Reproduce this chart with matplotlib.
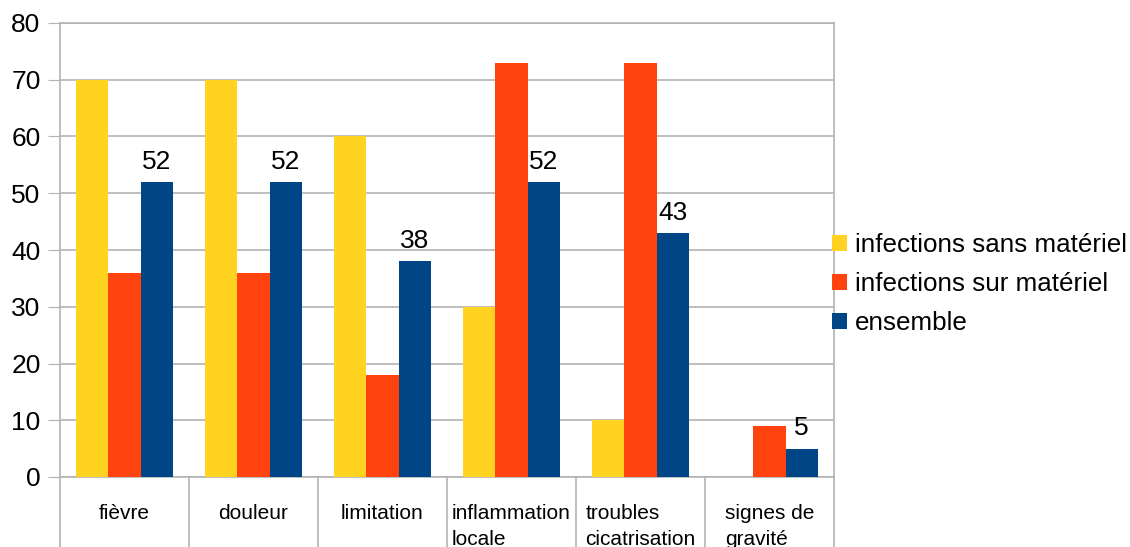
import matplotlib
matplotlib.use('Agg')
from matplotlib import pyplot
from matplotlib.patches import Patch

pyplot.rc('font', family=['Liberation Sans', 'DejaVu Sans'])

categories = ['fièvre', 'douleur', 'limitation', 'inflammation\nlocale',
              'troubles\ncicatrisation', 'signes de\ngravité']
series_names = ['infections sans matériel', 'infections sur matériel', 'ensemble']
sans_materiel = [70, 70, 60, 30, 10, 0]
sur_materiel = [36, 36, 18, 73, 73, 9]
ensemble = [52, 52, 38, 52, 43, 5]
colors = ['#FFD320', '#FF420E', '#004586']
grid_color = '#b3b3b3'

fig = pyplot.figure(figsize=(11.3, 5.47), dpi=100)
ax = fig.add_axes([60 / 1130, 1 - 477 / 547, 774 / 1130, 454 / 547])

width = 0.25
for k, (vals, col) in enumerate(zip([sans_materiel, sur_materiel, ensemble], colors)):
    xs = [i + 0.5 + (k - 1) * width for i in range(len(categories))]
    bars = ax.bar(xs, vals, width=width, color=col, zorder=3, linewidth=0)
    if k == 2:
        for b, v in zip(bars, vals):
            ax.annotate(str(v), (b.get_x() + b.get_width() / 2, v),
                        xytext=(0, 6), textcoords='offset points',
                        ha='center', va='bottom', fontsize=19)

ax.set_xlim(0, len(categories))
ax.set_ylim(0, 80)
ax.set_yticks(range(0, 81, 10))
ax.set_xticks([])
ax.tick_params(axis='y', length=9, color=grid_color, labelsize=19, pad=5)
ax.yaxis.grid(True, color=grid_color, linewidth=1.2, zorder=0)
ax.set_axisbelow(True)
for s in ax.spines.values():
    s.set_color(grid_color)
    s.set_linewidth(1.2)

# category dividers running down past the axis
xt = ax.get_xaxis_transform()
for i in range(len(categories) + 1):
    ax.plot([i, i], [0, -0.16], color=grid_color, linewidth=1.2,
            transform=xt, clip_on=False)

for i, lab in enumerate(categories):
    ax.text(i + 0.5, -0.059, lab, transform=xt, ha='center', va='top',
            multialignment='left', fontsize=15, linespacing=1.46)

handles = [Patch(facecolor=c, edgecolor='none') for c in colors]
fig.legend(handles, series_names, loc='center left',
           bbox_to_anchor=(811 / 1130, 1 - 284 / 547), frameon=False,
           fontsize=18.7, handlelength=0.6, handleheight=0.6,
           handletextpad=0.3, labelspacing=0.58, borderpad=0.3)

fig.savefig('out.png', dpi=100)
